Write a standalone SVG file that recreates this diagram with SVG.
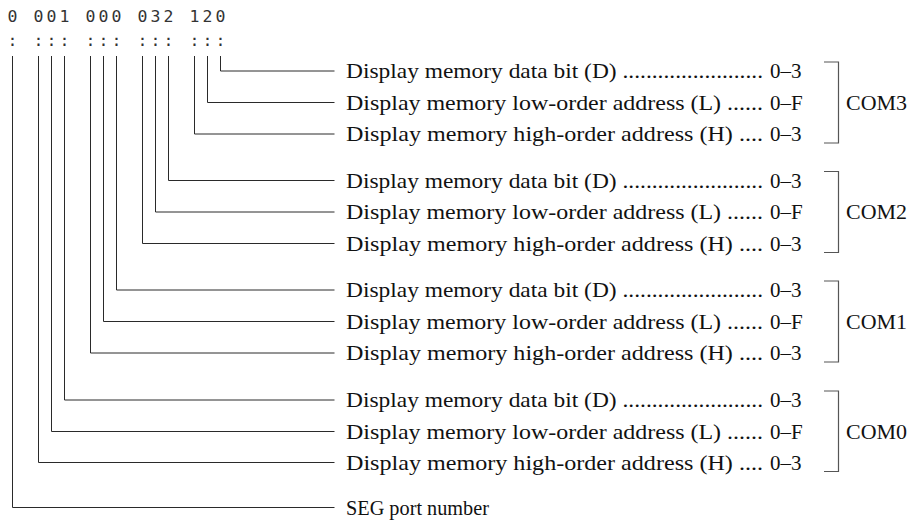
<svg xmlns="http://www.w3.org/2000/svg" width="913" height="520" viewBox="0 0 913 520">
  <style>
    .code { font-family: "DejaVu Sans Mono", "Liberation Mono", monospace; font-size: 16.5px; fill: #333; text-anchor: middle; }
    .lbl { font-family: "Liberation Serif", "DejaVu Serif", serif; font-size: 21px; fill: #111; }
    .val { font-family: "Liberation Serif", "DejaVu Serif", serif; font-size: 21px; fill: #111; }
    .com { font-family: "Liberation Serif", "DejaVu Serif", serif; font-size: 21px; fill: #111; }
    .wire { fill: none; stroke: #2a2a2a; stroke-width: 1; }
    .brk { fill: none; stroke: #555; stroke-width: 1.2; }
  </style>
  <rect width="913" height="520" fill="#fff"/>

  <!-- SEG/COM code digits with a colon under each one -->
  <g id="seg-code">
    <text class="code" x="12.5 25.5 38.5 51.5 64.5 77.5 90.5 103.5 116.5 129.5 142.5 155.5 168.5 181.5 194.5 207.5 220.5" y="21.5">0 001 000 032 120</text>
    <text class="code" x="12.5 25.5 38.5 51.5 64.5 77.5 90.5 103.5 116.5 129.5 142.5 155.5 168.5 181.5 194.5 207.5 220.5" y="46">: ::: ::: ::: :::</text>
  </g>

  <!-- leader lines from each digit to its field description -->
  <g id="connectors">
    <path class="wire" d="M220.5 56 V71 H334.5"/>
    <path class="wire" d="M207.5 56 V102.5 H334.5"/>
    <path class="wire" d="M194.5 56 V134 H334.5"/>
    <path class="wire" d="M168.5 56 V180.5 H334.5"/>
    <path class="wire" d="M155.5 56 V212 H334.5"/>
    <path class="wire" d="M142.5 56 V243.5 H334.5"/>
    <path class="wire" d="M116.5 56 V290 H334.5"/>
    <path class="wire" d="M103.5 56 V321.5 H334.5"/>
    <path class="wire" d="M90.5 56 V353 H334.5"/>
    <path class="wire" d="M64.5 56 V400 H334.5"/>
    <path class="wire" d="M51.5 56 V431.5 H334.5"/>
    <path class="wire" d="M38.5 56 V462.5 H334.5"/>
    <path class="wire" d="M12.5 56 V507.5 H334.5"/>
  </g>

  <!-- COM3 -->
  <g id="com3-d"><text class="lbl" x="346" y="78" textLength="417" lengthAdjust="spacingAndGlyphs">Display memory data bit (D) ........................</text><text class="val" x="770" y="78">0–3</text></g>
  <g id="com3-l"><text class="lbl" x="346" y="109.5" textLength="417" lengthAdjust="spacingAndGlyphs">Display memory low-order address (L) ......</text><text class="val" x="770" y="109.5">0–F</text></g>
  <g id="com3-h"><text class="lbl" x="346" y="141" textLength="417" lengthAdjust="spacingAndGlyphs">Display memory high-order address (H) ....</text><text class="val" x="770" y="141">0–3</text></g>
  <g id="com3"><path class="brk" d="M824 62 H838.5 V143 H824"/><text class="com" x="846" y="109.5" textLength="61" lengthAdjust="spacingAndGlyphs">COM3</text></g>

  <!-- COM2 -->
  <g id="com2-d"><text class="lbl" x="346" y="187.5" textLength="417" lengthAdjust="spacingAndGlyphs">Display memory data bit (D) ........................</text><text class="val" x="770" y="187.5">0–3</text></g>
  <g id="com2-l"><text class="lbl" x="346" y="219" textLength="417" lengthAdjust="spacingAndGlyphs">Display memory low-order address (L) ......</text><text class="val" x="770" y="219">0–F</text></g>
  <g id="com2-h"><text class="lbl" x="346" y="250.5" textLength="417" lengthAdjust="spacingAndGlyphs">Display memory high-order address (H) ....</text><text class="val" x="770" y="250.5">0–3</text></g>
  <g id="com2"><path class="brk" d="M824 171.5 H838.5 V252.5 H824"/><text class="com" x="846" y="219" textLength="61" lengthAdjust="spacingAndGlyphs">COM2</text></g>

  <!-- COM1 -->
  <g id="com1-d"><text class="lbl" x="346" y="297" textLength="417" lengthAdjust="spacingAndGlyphs">Display memory data bit (D) ........................</text><text class="val" x="770" y="297">0–3</text></g>
  <g id="com1-l"><text class="lbl" x="346" y="328.5" textLength="417" lengthAdjust="spacingAndGlyphs">Display memory low-order address (L) ......</text><text class="val" x="770" y="328.5">0–F</text></g>
  <g id="com1-h"><text class="lbl" x="346" y="360" textLength="417" lengthAdjust="spacingAndGlyphs">Display memory high-order address (H) ....</text><text class="val" x="770" y="360">0–3</text></g>
  <g id="com1"><path class="brk" d="M824 281 H838.5 V362 H824"/><text class="com" x="846" y="328.5" textLength="61" lengthAdjust="spacingAndGlyphs">COM1</text></g>

  <!-- COM0 -->
  <g id="com0-d"><text class="lbl" x="346" y="407" textLength="417" lengthAdjust="spacingAndGlyphs">Display memory data bit (D) ........................</text><text class="val" x="770" y="407">0–3</text></g>
  <g id="com0-l"><text class="lbl" x="346" y="438.5" textLength="417" lengthAdjust="spacingAndGlyphs">Display memory low-order address (L) ......</text><text class="val" x="770" y="438.5">0–F</text></g>
  <g id="com0-h"><text class="lbl" x="346" y="469.5" textLength="417" lengthAdjust="spacingAndGlyphs">Display memory high-order address (H) ....</text><text class="val" x="770" y="469.5">0–3</text></g>
  <g id="com0"><path class="brk" d="M824 391 H838.5 V471.5 H824"/><text class="com" x="846" y="438.5" textLength="61" lengthAdjust="spacingAndGlyphs">COM0</text></g>

  <!-- SEG port -->
  <g id="seg"><text class="lbl" x="346" y="514.5" textLength="143" lengthAdjust="spacingAndGlyphs">SEG port number</text></g>
</svg>
